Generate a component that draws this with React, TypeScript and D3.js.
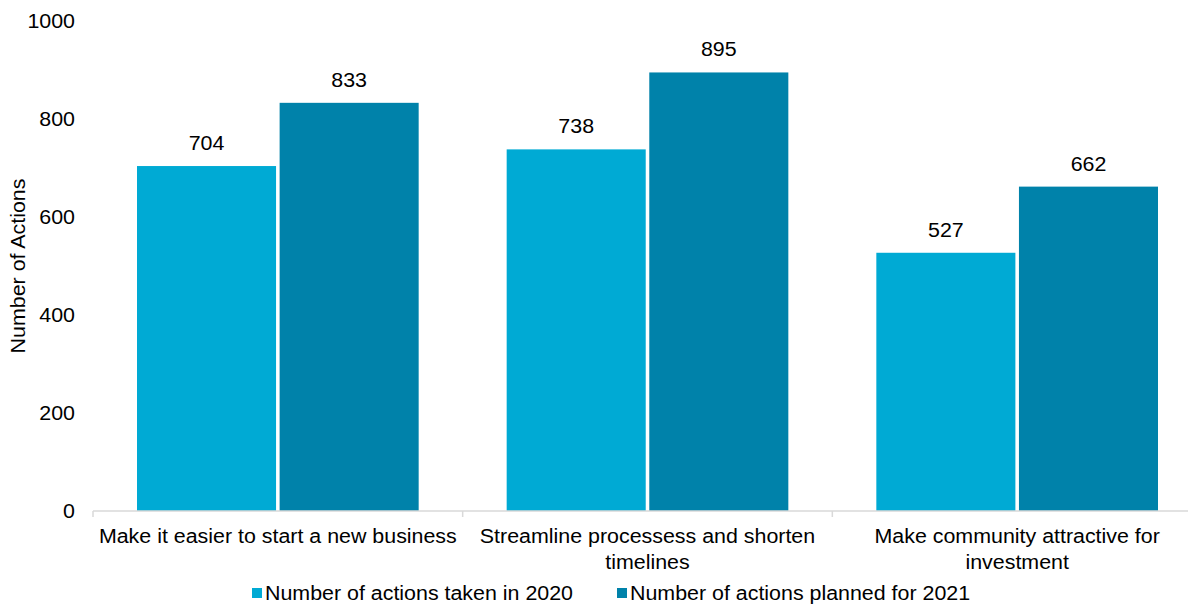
import React from "react";
import * as d3 from "d3";

const categories: string[][] = [
  ["Make it easier to start a new business"],
  ["Streamline processess and shorten", "timelines"],
  ["Make community attractive for", "investment"],
];
const series = ["Number of actions taken in 2020", "Number of actions planned for 2021"];
const values2020 = [704, 738, 527];
const values2021 = [833, 895, 662];
const yTicks = [0, 200, 400, 600, 800, 1000];
const colors = ["#00AAD4", "#0082AA"];

export default function App() {
  const W = 1188, H = 606;
  const left = 93, right = 1202, top = 21, bottom = 511;
  const x = d3.scaleBand<number>().domain([0, 1, 2]).range([left, right]).paddingInner(0).paddingOuter(0);
  const y = d3.scaleLinear().domain([0, 1000]).range([bottom, top]);
  const inner = d3.scaleBand<number>().domain([0, 1]).range([44, x.bandwidth() - 44]).paddingInner(0.025);
  const font = "'Liberation Sans', Arial, sans-serif";
  const fs = 20;
  const sx = 1.07;
  const vals = [values2020, values2021];
  const T = (props: any) => {
    const { x: tx, y: ty, anchor, children, rotate } = props;
    return (
      <text
        transform={`translate(${tx},${ty})${rotate ? " rotate(-90)" : ""} scale(${sx},1)`}
        textAnchor={anchor || "start"}
        dy="0.35em"
        fontSize={fs}
        fill="#000"
      >
        {children}
      </text>
    );
  };
  return (
    <svg width={W} height={H} style={{ position: "absolute", left: 0, top: 0 }} fontFamily={font}>
      <rect width={W} height={H} fill="#fff" />
      {vals.map((vs, s) =>
        vs.map((v, i) => {
          const bx = (x(i) as number) + (inner(s) as number);
          return (
            <g key={`${s}-${i}`}>
              <rect x={bx} y={y(v)} width={inner.bandwidth()} height={bottom - y(v)} fill={colors[s]} />
              <T x={bx + inner.bandwidth() / 2} y={y(v) - 23} anchor="middle">
                {v}
              </T>
            </g>
          );
        })
      )}
      <line x1={left} x2={right} y1={bottom} y2={bottom} stroke="#D9D9D9" strokeWidth={1.5} />
      {[0, 1, 2, 3].map((i) => {
        const tx = i < 3 ? (x(i) as number) : right;
        return <line key={i} x1={tx} x2={tx} y1={bottom} y2={bottom + 6} stroke="#D9D9D9" strokeWidth={1.5} />;
      })}
      {yTicks.map((t) => (
        <T key={t} x={75} y={y(t)} anchor="end">
          {t}
        </T>
      ))}
      <T x={18} y={(top + bottom) / 2} anchor="middle" rotate>
        Number of Actions
      </T>
      {categories.map((lines, i) =>
        lines.map((l, j) => (
          <T key={`${i}-${j}`} x={(x(i) as number) + x.bandwidth() / 2} y={536 + j * 26} anchor="middle">
            {l}
          </T>
        ))
      )}
      {series.map((s, i) => {
        const lx = i === 0 ? 252 : 617;
        return (
          <g key={s}>
            <rect x={lx} y={588} width={10} height={10} fill={colors[i]} />
            <T x={lx + 13} y={593}>
              {s}
            </T>
          </g>
        );
      })}
    </svg>
  );
}
